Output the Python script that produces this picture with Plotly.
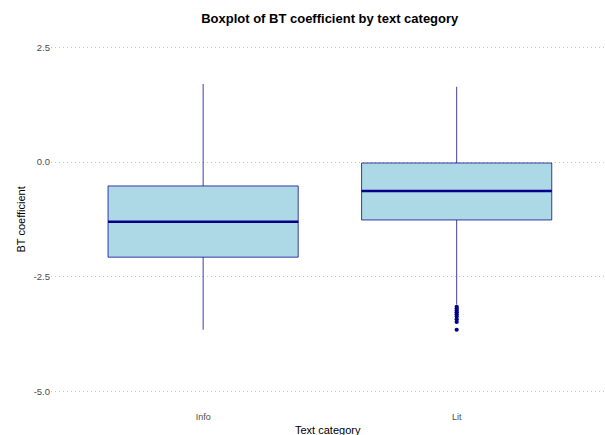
import plotly.graph_objects as go

# Summary statistics per text category
categories = ["Info", "Lit"]
upper_whisker = [1.70, 1.64]
q3 = [-0.52, -0.02]
median = [-1.30, -0.63]
q1 = [-2.07, -1.26]
lower_whisker = [-3.65, -3.10]

# Points beyond the lower whisker in the "Lit" group
lit_outliers = [-3.15, -3.19, -3.23, -3.27, -3.31, -3.36, -3.42, -3.48, -3.65]

y_ticks = [2.5, 0.0, -2.5, -5.0]
y_tick_labels = ["2.5", "0.0", "-2.5", "-5.0"]

box_width = 0.75
positions = [i + 1 for i in range(len(categories))]

fig = go.Figure()

fig.add_trace(go.Box(
    x=positions,
    q1=q1, median=median, q3=q3,
    lowerfence=lower_whisker, upperfence=upper_whisker,
    width=box_width,
    fillcolor="#ADD8E6",
    line=dict(color="rgba(0,0,139,0.75)", width=1),
    whiskerwidth=0,
    boxpoints=False,
    hoverinfo="skip",
    showlegend=False,
))

# Emphasised median lines
for pos, med in zip(positions, median):
    fig.add_trace(go.Scatter(
        x=[pos - box_width / 2, pos + box_width / 2], y=[med, med],
        mode="lines", line=dict(color="#00008B", width=2.4),
        hoverinfo="skip", showlegend=False,
    ))

fig.add_trace(go.Scatter(
    x=[positions[1]] * len(lit_outliers), y=lit_outliers,
    mode="markers", marker=dict(color="#00008B", size=4.2),
    hoverinfo="skip", showlegend=False,
))

fig.update_layout(
    width=605, height=435,
    margin=dict(l=51, r=0, t=30, b=26),
    paper_bgcolor="white", plot_bgcolor="white",
    font=dict(family="Liberation Sans, Arial, sans-serif", color="#4d4d4d", size=9),
    title=dict(
        text="<b>Boxplot of BT coefficient by text category</b>",
        x=0.545, xanchor="center", y=0.958, yanchor="middle",
        font=dict(size=13, color="black"),
    ),
    xaxis=dict(
        range=[0.4, 2.585], tickvals=positions, ticktext=categories,
        showgrid=False, zeroline=False, showline=False, ticks="",
        tickfont=dict(size=9, color="#4d4d4d"), ticklabelstandoff=1,
    ),
    yaxis=dict(
        range=[-5.375, 2.875], tickvals=y_ticks, ticktext=y_tick_labels,
        showgrid=True, gridcolor="#c4c4c4", griddash="1px,3px", gridwidth=1,
        zeroline=False, showline=False, ticks="",
        tickfont=dict(size=9.5, color="#4d4d4d"),
    ),
    annotations=[
        dict(text="Text category", xref="paper", yref="paper", x=0.5, y=0,
             xanchor="center", yanchor="top", yshift=-13, showarrow=False,
             font=dict(size=11, color="black")),
        dict(text="BT coefficient", xref="paper", yref="paper", x=0, y=0.5,
             xanchor="center", yanchor="middle", xshift=-31, textangle=-90,
             showarrow=False, font=dict(size=11, color="black")),
    ],
)

fig.write_html("out.html")
